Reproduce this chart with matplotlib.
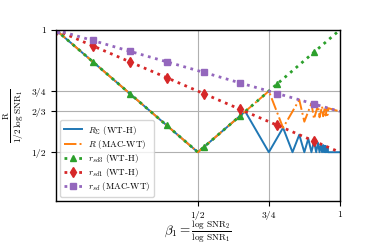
import numpy as np
import matplotlib
matplotlib.use("Agg")
import matplotlib.pyplot as plt

plt.rcParams['font.family'] = 'serif'
plt.rcParams['font.serif'] = ['cmr10']
plt.rcParams['mathtext.fontset'] = 'cm'
plt.rcParams['axes.formatter.use_mathtext'] = True

# R_sigma (WT-H): zigzag vertices
blue_beta = [0, 1/2, 2/3, 3/4, 4/5, 5/6, 6/7, 7/8, 8/9, 9/10, 10/11, 11/12,
             12/13, 13/14, 14/15, 15/16, 16/17, 17/18, 18/19, 19/20, 20/21,
             21/22, 22/23, 23/24, 1]
blue_r = [1, 1/2, 2/3, 1/2, 3/5, 1/2, 4/7, 1/2, 5/9, 1/2, 6/11, 1/2,
          7/13, 1/2, 8/15, 1/2, 9/17, 1/2, 10/19, 1/2, 11/21,
          1/2, 12/23, 1/2, 1/2]

# R (MAC-WT)
orange_beta = [0, 1/2, 3/4, 4/5, 6/7, 7/8, 9/10, 10/11, 12/13, 13/14, 15/16,
               16/17, 18/19, 19/20, 21/22, 22/23, 24/25, 1]
orange_r = [1, 1/2, 3/4, 3/5, 5/7, 5/8, 7/10, 7/11, 9/13, 9/14, 11/16,
            11/17, 13/19, 13/20, 15/22, 15/23, 17/25, 2/3]

# r_sd3 (WT-H), r_sd1 (WT-H), r_sd (MAC-WT): corner points plus marker points
green_beta = [0, 0.13, 0.26, 0.39, 0.5, 0.52, 0.65, 0.78, 0.91, 1]
green_r = [1, 0.87, 0.74, 0.61, 0.5, 0.52, 0.65, 0.78, 0.91, 1]
green_marks = [0, 1, 2, 3, 5, 6, 7, 8]

red_beta = [0, 0.13, 0.26, 0.39, 0.52, 0.65, 0.78, 0.91, 1]
red_r = [1, 0.935, 0.87, 0.805, 0.74, 0.675, 0.61, 0.545, 0.5]

purple_beta = [0, 0.13, 0.26, 0.39, 0.52, 0.65, 0.78, 0.91, 1]
purple_r = [1, 0.957, 0.913, 0.87, 0.827, 0.783, 0.74, 0.697, 2/3]

xticks = [1/2, 3/4, 1]
xtick_labels = ['1/2', '3/4', '1']
yticks = [1/2, 2/3, 3/4, 1]
ytick_labels = ['1/2', '2/3', '3/4', '1']

fig = plt.figure(figsize=(3.78, 2.52), dpi=100)
ax = fig.add_axes([0.148, 0.202, 0.751, 0.679])

ax.plot(blue_beta, blue_r, color='C0', lw=1.4, label=r'$R_{\Sigma}$ (WT-H)')
ax.plot(orange_beta, orange_r, color='C1', lw=1.4, ls='-.', label=r'$R$ (MAC-WT)')
ax.plot(green_beta, green_r, color='C2', lw=2, ls=':', marker='^', ms=4.5,
        markevery=green_marks, label=r'$r_{sd3}$ (WT-H)')
ax.plot(red_beta, red_r, color='C3', lw=2, ls=':', marker='d', ms=5,
        markevery=list(range(8)), label=r'$r_{sd1}$ (WT-H)')
ax.plot(purple_beta, purple_r, color='C4', lw=2, ls=':', marker='s', ms=4.5,
        markevery=list(range(8)), label=r'$r_{sd}$ (MAC-WT)')

ax.set_xlim(0, 1)
ax.set_ylim(0.3, 1)
ax.set_xticks(xticks)
ax.set_xticklabels(xtick_labels, fontsize=7)
ax.set_yticks(yticks)
ax.set_yticklabels(ytick_labels, fontsize=7)
ax.grid(True, color='#b0b0b0', lw=0.8)
for s in ax.spines.values():
    s.set_linewidth(1.0)

ax.set_xlabel(r'$\beta_1 = \frac{\log\,\mathrm{SNR}_2}{\log\,\mathrm{SNR}_1}$',
              fontsize=9.5, labelpad=-1)
ax.set_ylabel(r'$\frac{\mathrm{R}}{1/2\,\log\,\mathrm{SNR}_1}$', fontsize=9.5)

ax.legend(loc='lower left', fontsize=6.5, labelspacing=0.12, handlelength=2.0,
          handletextpad=0.6, borderpad=0.4, framealpha=0.8)

fig.savefig('out.png', dpi=100)
